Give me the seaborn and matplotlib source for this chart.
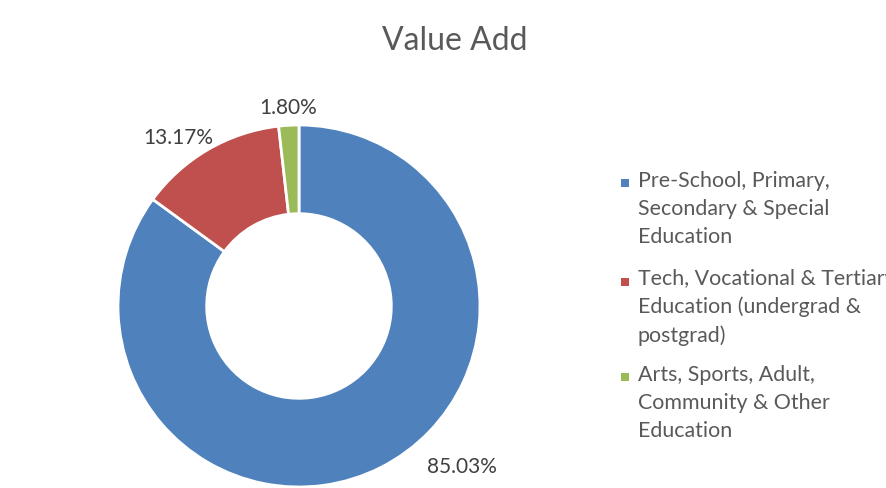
import matplotlib
matplotlib.use("Agg")
import matplotlib.pyplot as plt
import seaborn as sns
import numpy as np
from matplotlib.patches import Rectangle

# ---- data ----
categories = [
    "Pre-School, Primary,\nSecondary & Special\nEducation",
    "Tech, Vocational & Tertiary\nEducation (undergrad &\npostgrad)",
    "Arts, Sports, Adult,\nCommunity & Other\nEducation",
]
values = [85.03, 13.17, 1.80]
title = "Value Add"

# ---- style ----
colors = ["#4F81BD", "#C0504D", "#9BBB59"]
label_angle_offset = [18.5, 5.5, 0.0]   # degrees relative to wedge mid-angle
label_radius = [1.265, 1.144, 1.096]

sns.set_theme(style="white")
plt.rcParams['font.family'] = ['Lato', 'DejaVu Sans']

W, H = 887, 488
fig = plt.figure(figsize=(W / 100, H / 100), dpi=100)
fig.patch.set_facecolor("white")

cx, cy, R = 299, 306, 181
ax = fig.add_axes([(cx - R) / W, (H - cy - R) / H, 2 * R / W, 2 * R / H])
wedges, _ = ax.pie(values, colors=colors, startangle=90, counterclock=False,
                   wedgeprops=dict(width=1 - 0.51, edgecolor="white", linewidth=2))
ax.set_xlim(-1, 1)
ax.set_ylim(-1, 1)
ax.set_aspect("equal")
ax.axis("off")

for w, v, off, r in zip(wedges, values, label_angle_offset, label_radius):
    mid = np.deg2rad((w.theta1 + w.theta2) / 2 + off)
    ax.text(r * np.cos(mid), r * np.sin(mid), f"{v:.2f}%", ha="center", va="center",
            fontsize=15, color="#404040", clip_on=False)

fig.text(454.5 / W, 1 - 50 / H, title, ha="center", va="baseline",
         fontsize=23, color="#595959")

# legend (manual, to keep marker on first line)
first_baselines = [188, 287, 382]
step = 27.5
for lab, col, b in zip(categories, colors, first_baselines):
    nlines = lab.count("\n")
    fig.text(638 / W, 1 - (b + nlines * step) / H, lab, ha="left", va="baseline",
             fontsize=15.4, color="#595959", linespacing=1.49)
    fig.patches.append(Rectangle((621 / W, 1 - (b - 1) / H), 8 / W, 8 / H,
                                 transform=fig.transFigure, facecolor=col,
                                 edgecolor="none"))

fig.savefig("out.png", dpi=100, facecolor="white")
